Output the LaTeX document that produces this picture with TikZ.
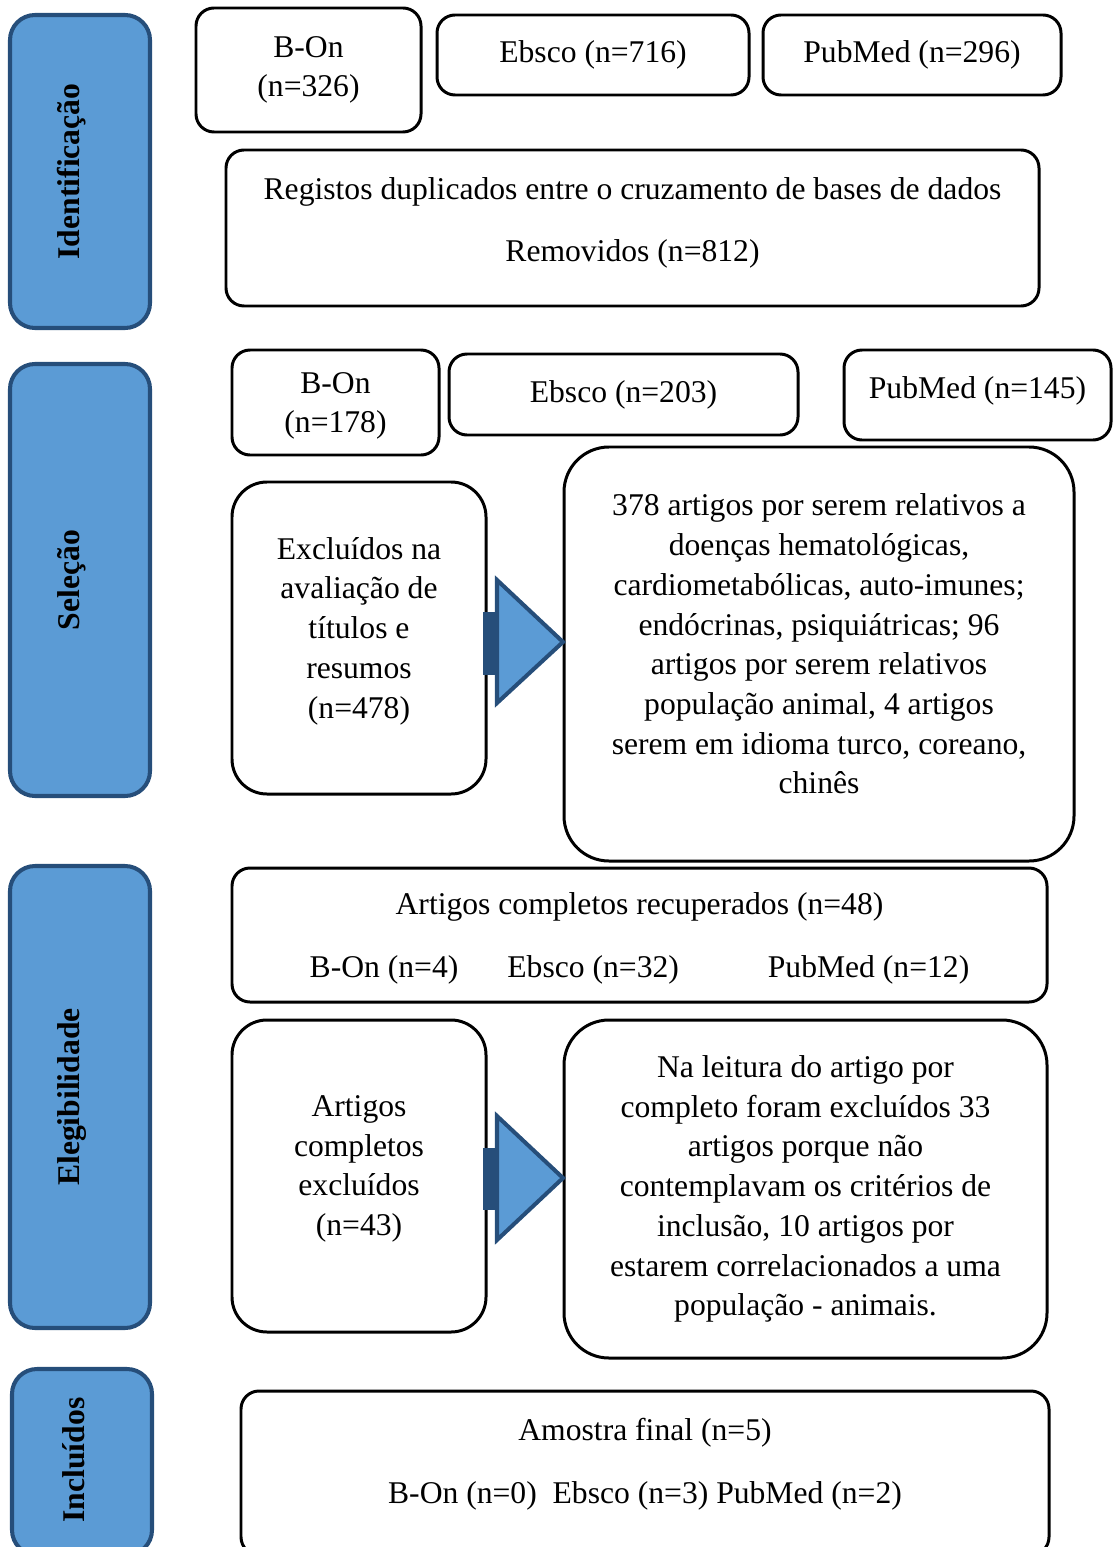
\documentclass[tikz,border=0pt]{standalone}
\usepackage{fontspec}
\setmainfont{Liberation Serif}
\usetikzlibrary{positioning, calc}

\begin{document}
\begin{tikzpicture}[
    x=0.02cm, y=-0.02cm,
    wh/.style 2 args = {minimum width=#1*0.02cm, minimum height=#2*0.02cm},
    phase/.style = {rectangle, draw=phaseborder, fill=phasefill, line width=2.3pt, rounded corners=0.5cm, inner sep=0pt},
    phaselabel/.style = {rotate=90, font=\fontsize{18}{22}\selectfont\bfseries},
    box/.style = {rectangle, draw=black, line width=1.7pt, rounded corners=0.36cm, align=center, inner sep=2pt, font=\fontsize{18}{22.6}\selectfont},
    bigbox/.style = {box, rounded corners=0.9cm},
    midbox/.style = {box, rounded corners=0.7cm},
    head/.style = {draw=phaseborder, fill=phasefill, line width=2.3pt, line join=miter},
    stem/.style = {fill=phaseborder}
]
    % Colors definition
    \definecolor{phasefill}{RGB}{91, 155, 213}
    \definecolor{phaseborder}{RGB}{38, 78, 122}

    \useasboundingbox (0,0) rectangle (1113,1547);

    % Phase bars
    \node (ident) [phase, wh={140}{313}] at (80,171.5) {};
    \node (selec) [phase, wh={140}{432}] at (80,580) {};
    \node (eleg)  [phase, wh={140}{462}] at (80,1097) {};
    \node (incl)  [phase, wh={140}{186}] at (82,1462) {};
    \node [phaselabel] at (72,171.5) {Identificação};
    \node [phaselabel] at (72,580) {Seleção};
    \node [phaselabel] at (72,1097) {Elegibilidade};
    \node [phaselabel] at (74,1460) {Incluídos};

    % Identification
    \node (bon1) [box, wh={225}{124}] at (308.5,70) {B-On\\(n=326)};
    \node (ebs1) [box, wh={312}{80}] at (593,55) {Ebsco (n=716)};
    \node (pub1) [box, wh={298}{80}] at (912,55) {PubMed (n=296)};
    \node (dup) [box, wh={813}{156}, text depth=9.5pt] at (632.5,228) {Registos duplicados entre o cruzamento de bases de dados\\[13pt]Removidos (n=812)};

    % Selection
    \node (bon2) [box, wh={207}{105}, text depth=-5.3pt] at (335.5,402.5) {B-On\\(n=178)};
    \node (ebs2) [box, wh={349}{81}] at (623.5,394.5) {Ebsco (n=203)};
    \node (pub2) [box, wh={267}{90}, text depth=8.4pt] at (977.5,395) {PubMed (n=145)};
    \node (excl) [midbox, wh={254}{312}, text depth=11.8pt] at (359,638) {Excluídos na\\avaliação de\\títulos e\\resumos\\(n=478)};
    \node (motiv) [bigbox, wh={510}{414}, text depth=11.4pt] at (819,654) {378 artigos por serem relativos a\\doenças hematológicas,\\cardiometabólicas, auto-imunes;\\endócrinas, psiquiátricas; 96\\artigos por serem relativos\\população animal, 4 artigos\\serem em idioma turco, coreano,\\chinês};

    % Eligibility
    \node (recup) [box, wh={815}{134}, text depth=-1.9pt] at (639.5,935) {Artigos completos recuperados (n=48)\\[13pt]B-On (n=4)\hspace{0.98cm}Ebsco (n=32)\hspace{1.78cm}PubMed (n=12)};
    \node (excl2) [midbox, wh={254}{312}, text depth=11.8pt] at (359,1176) {Artigos\\completos\\excluídos\\(n=43)};
    \node (leit) [bigbox, wh={483}{338}] at (805.5,1189) {Na leitura do artigo por\\completo foram excluídos 33\\artigos porque não\\contemplavam os critérios de\\inclusão, 10 artigos por\\estarem correlacionados a uma\\população - animais.};

    % Included
    \node (final) [box, wh={808}{164}, text depth=14pt] at (645,1473) {Amostra final (n=5)\\[13pt]B-On (n=0)\ \ Ebsco (n=3) PubMed (n=2)};

    % Block arrows
    \coordinate (tipA) at (563,642);
    \coordinate (tipB) at (563,1178);
    \fill [stem] ($(tipA)+(-80,-30)$) rectangle ($(tipA)+(-66,33)$);
    \draw [head] ($(tipA)+(-66,-62)$) -- (tipA) -- ($(tipA)+(-66,61)$) -- cycle;
    \fill [stem] ($(tipB)+(-80,-30)$) rectangle ($(tipB)+(-66,32)$);
    \draw [head] ($(tipB)+(-66,-62)$) -- (tipB) -- ($(tipB)+(-66,62)$) -- cycle;

\end{tikzpicture}
\end{document}
